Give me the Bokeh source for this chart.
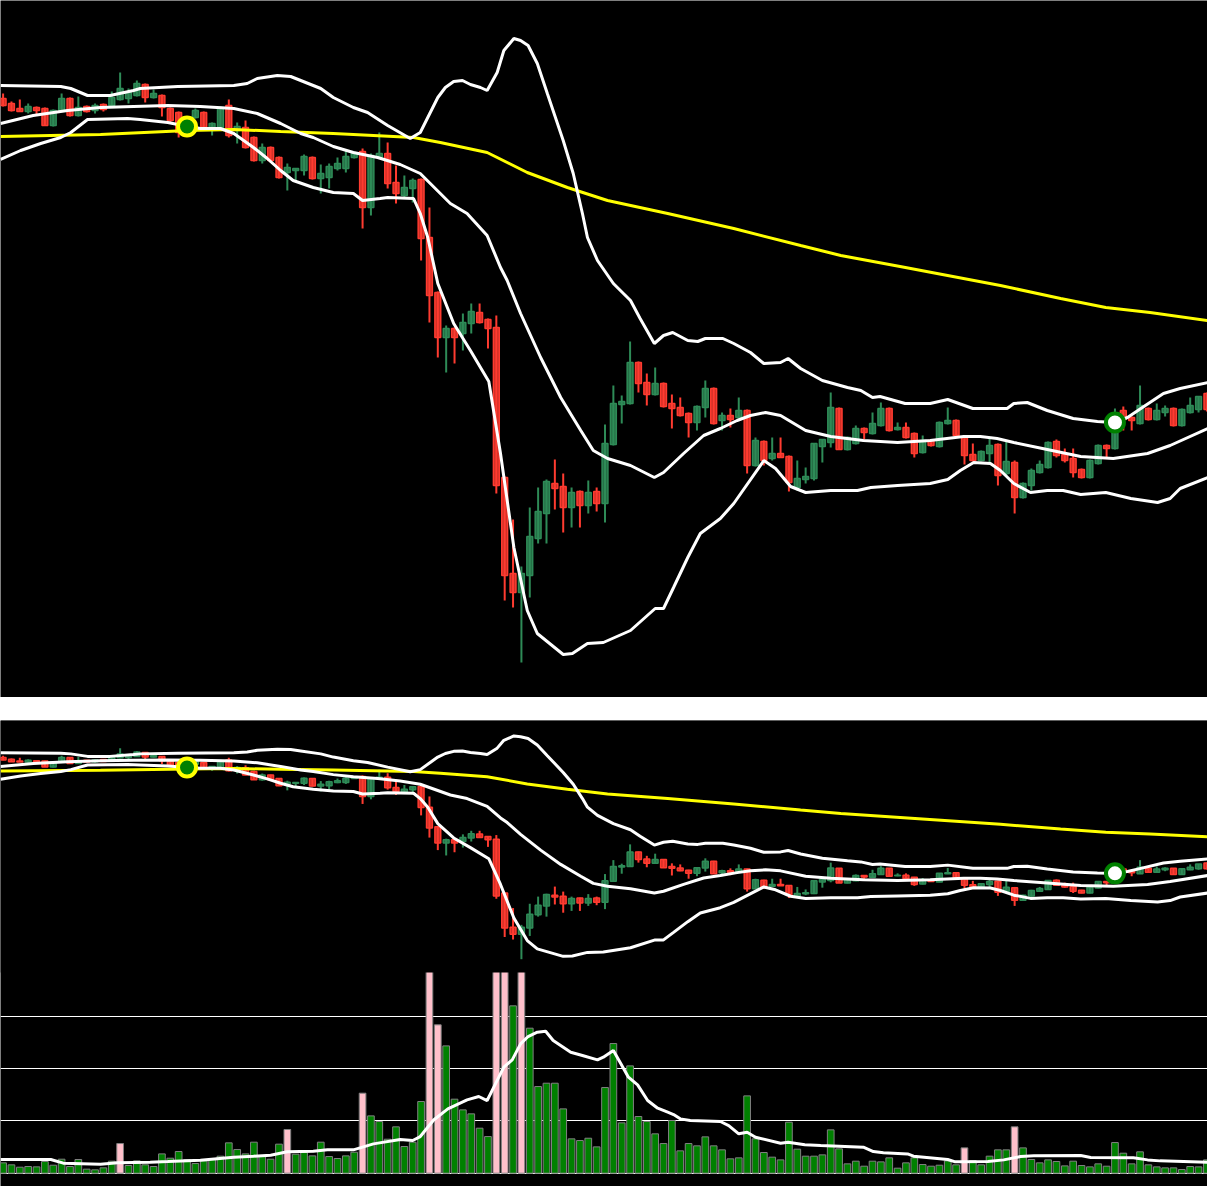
from bokeh.plotting import figure
from bokeh.models import Range1d, FixedTicker, Grid, Spacer, ColumnDataSource
from bokeh.layouts import column
from bokeh.embed import file_html
from bokeh.resources import INLINE

# ---------------- price data (OHLC), one entry per session ----------------
opens = [90.2, 89.7, 89.2, 88.9, 89.3, 89.2, 87.5, 89.0, 90.2, 88.5,
         89.4, 89.0, 89.6, 89.5, 90.1, 90.2, 90.5, 91.6, 90.3, 90.5,
         89.2, 88.8, 88.2, 88.3, 88.8, 87.3, 87.3, 89.5, 87.0, 87.3,
         86.3, 84.0, 85.3, 84.3, 82.8, 83.0, 83.0, 84.3, 82.2, 82.3,
         83.2, 83.2, 84.3, 84.9, 79.3, 84.3, 84.7, 81.8, 80.5, 81.2,
         82.1, 76.3, 70.8, 66.3, 67.2, 66.7, 67.7, 68.8, 68.1, 67.3,
         52.3, 42.7, 40.8, 42.5, 46.2, 48.7, 51.7, 51.4, 49.3, 50.9,
         49.5, 50.9, 49.7, 55.6, 59.6, 59.7, 63.8, 61.8, 60.6, 61.7,
         59.7, 59.3, 58.7, 57.8, 59.3, 61.2, 58.0, 58.5, 58.3, 59.0,
         53.5, 55.9, 54.2, 54.7, 54.4, 51.3, 52.1, 52.2, 55.4, 55.8,
         59.2, 55.1, 55.7, 57.2, 56.7, 57.5, 59.2, 57.1, 57.3, 56.7,
         54.8, 56.0, 55.4, 57.7, 58.0, 56.3, 54.6, 54.0, 54.7, 55.6,
         52.7, 53.8, 50.3, 51.5, 52.8, 53.3, 55.9, 54.6, 54.2, 53.1,
         52.3, 53.7, 55.5, 55.2, 59.0, 58.3, 57.7, 59.2, 58.1, 58.8,
         59.2, 57.5, 58.8, 59.1, 60.7]
highs = [90.7, 89.9, 90.1, 89.7, 89.4, 89.3, 89.1, 90.7, 90.3, 90.4,
         89.5, 89.7, 89.7, 90.9, 92.8, 91.2, 92.0, 91.7, 91.1, 90.6,
         89.3, 88.9, 88.4, 89.2, 88.9, 87.8, 89.4, 90.1, 87.8, 88.0,
         86.4, 85.7, 85.4, 84.4, 83.7, 83.2, 84.6, 84.4, 83.6, 83.7,
         84.3, 85.0, 84.9, 85.2, 84.7, 86.8, 85.8, 83.5, 82.5, 82.2,
         82.2, 79.3, 70.9, 67.5, 67.3, 68.7, 69.7, 69.7, 68.2, 68.5,
         52.4, 48.1, 43.4, 49.3, 51.3, 52.1, 54.1, 52.7, 51.3, 51.0,
         52.0, 51.3, 57.6, 61.5, 60.5, 65.9, 63.9, 62.7, 63.3, 61.8,
         60.6, 60.3, 58.8, 59.5, 62.0, 61.3, 58.8, 59.2, 60.3, 59.1,
         56.3, 56.0, 56.3, 56.3, 54.5, 54.0, 53.3, 55.7, 56.1, 60.8,
         59.3, 56.4, 57.5, 57.3, 58.8, 59.8, 59.3, 57.8, 57.8, 56.8,
         56.5, 56.1, 57.9, 59.3, 58.1, 56.4, 55.7, 55.0, 56.2, 55.7,
         56.0, 54.0, 51.8, 53.2, 54.0, 55.9, 56.1, 55.2, 55.2, 53.2,
         54.1, 55.6, 55.6, 59.2, 59.4, 58.4, 61.5, 59.3, 59.7, 59.5,
         59.3, 59.2, 60.3, 60.4, 60.8]
lows = [89.4, 88.9, 88.9, 88.7, 88.5, 87.5, 87.4, 88.9, 88.4, 88.4,
        88.8, 88.7, 88.9, 89.4, 90.0, 89.7, 90.4, 89.8, 90.2, 88.4,
        87.8, 86.3, 87.0, 88.2, 87.2, 86.5, 87.2, 86.3, 85.7, 85.2,
        83.9, 83.7, 83.8, 82.2, 81.0, 82.0, 82.5, 82.1, 80.7, 81.2,
        83.0, 82.8, 84.2, 77.2, 78.5, 84.2, 81.2, 79.7, 80.3, 79.8,
        74.0, 67.8, 64.3, 62.8, 63.7, 65.0, 66.7, 67.7, 65.2, 50.7,
        40.0, 39.3, 33.8, 40.3, 45.7, 45.7, 49.1, 46.8, 47.3, 47.3,
        48.7, 48.9, 47.8, 55.5, 57.7, 59.6, 60.8, 59.5, 60.5, 59.3,
        57.2, 58.4, 56.3, 57.0, 58.3, 57.6, 57.0, 57.3, 58.2, 52.7,
        53.4, 53.5, 54.0, 54.3, 50.9, 51.0, 51.7, 52.0, 53.8, 55.3,
        55.1, 55.0, 55.6, 56.1, 56.6, 57.4, 56.9, 57.0, 56.2, 54.3,
        54.7, 55.4, 55.3, 57.6, 56.4, 53.6, 53.9, 53.9, 53.8, 51.5,
        52.5, 48.7, 50.2, 51.0, 52.7, 53.2, 54.3, 53.8, 52.3, 52.2,
        52.2, 53.6, 54.3, 55.1, 57.0, 57.0, 57.6, 58.0, 58.0, 58.4,
        57.4, 57.4, 58.7, 58.8, 58.9]
closes = [89.5, 89.0, 88.9, 89.4, 89.0, 87.5, 89.0, 90.2, 88.5, 89.3,
          88.9, 89.5, 89.1, 90.3, 91.2, 90.8, 91.7, 90.3, 90.7, 89.3,
          88.0, 86.8, 87.3, 89.0, 87.3, 87.7, 89.3, 86.5, 87.4, 85.3,
          84.0, 85.3, 84.0, 82.3, 83.3, 83.2, 84.4, 82.2, 82.7, 83.4,
          83.7, 84.4, 84.7, 79.3, 84.5, 84.7, 81.7, 80.7, 81.3, 82.0,
          76.2, 70.5, 66.3, 67.2, 66.3, 67.8, 68.9, 67.8, 67.2, 51.5,
          42.5, 40.8, 42.7, 46.4, 48.9, 51.9, 51.2, 49.3, 50.8, 49.5,
          50.8, 49.7, 55.7, 59.7, 59.9, 63.8, 61.7, 60.6, 61.7, 59.4,
          59.2, 58.5, 57.8, 59.4, 61.2, 57.7, 58.5, 58.1, 59.0, 53.5,
          56.0, 54.0, 54.7, 54.3, 51.8, 52.2, 52.4, 55.7, 56.1, 59.3,
          55.1, 56.3, 57.2, 56.8, 57.7, 59.2, 57.0, 57.3, 56.3, 54.7,
          56.0, 55.5, 57.8, 58.0, 56.5, 54.5, 54.0, 54.9, 55.5, 52.5,
          53.9, 50.3, 51.7, 53.0, 53.6, 55.8, 54.5, 54.0, 52.8, 52.3,
          54.0, 55.5, 55.2, 57.5, 58.1, 58.0, 59.5, 58.1, 59.0, 59.2,
          57.5, 59.1, 59.5, 60.4, 59.1]

# ---------------- volume (millions), one entry per session ----------------
volumes = [0.198, 0.160, 0.115, 0.128, 0.121, 0.224, 0.153, 0.268, 0.128, 0.262,
           0.077, 0.064, 0.102, 0.230, 0.568, 0.147, 0.236, 0.160, 0.128, 0.370,
           0.287, 0.415, 0.262, 0.185, 0.236, 0.275, 0.326, 0.581, 0.453, 0.370,
           0.594, 0.326, 0.268, 0.556, 0.837, 0.364, 0.396, 0.332, 0.594, 0.319,
           0.281, 0.332, 0.402, 1.533, 1.098, 0.990, 0.651, 0.888, 0.511, 0.594,
           1.373, 4.600, 2.842, 2.439, 1.418, 1.213, 1.137, 0.862, 0.702, 4.300,
           4.900, 3.206, 4.100, 2.778, 1.660, 1.724, 1.724, 1.232, 0.658, 0.626,
           0.670, 0.504, 1.641, 2.484, 0.964, 2.056, 1.086, 0.990, 0.754, 0.568,
           1.009, 0.428, 0.568, 0.524, 0.696, 0.524, 0.447, 0.275, 0.294, 1.481,
           0.658, 0.396, 0.307, 0.255, 0.977, 0.460, 0.326, 0.326, 0.351, 0.830,
           0.466, 0.179, 0.230, 0.134, 0.230, 0.217, 0.294, 0.096, 0.198, 0.294,
           0.166, 0.134, 0.153, 0.236, 0.160, 0.485, 0.243, 0.160, 0.326, 0.447,
           0.447, 0.888, 0.485, 0.262, 0.198, 0.255, 0.224, 0.140, 0.230, 0.147,
           0.121, 0.179, 0.134, 0.587, 0.383, 0.179, 0.409, 0.160, 0.121, 0.102,
           0.102, 0.070, 0.128, 0.121, 0.255]
volume_spikes = [14, 34, 43, 51, 52, 59, 60, 62, 115, 121]
volume_ticks = [0, 1, 2, 3]
volume_panel_top = 3.845   # upper limit of the volume pane

# ---------------- indicator lines (session position, value) ----------------
bb_upper_x = [-0.3, 6.9, 8.1, 10.1, 12.8, 15.6, 16.4, 20.9, 27.6, 29.2, 30.4, 32.8,
              34.4, 35.6, 38.0, 39.5, 41.9, 43.6, 46.0, 48.7, 49.9, 52.0, 52.9, 53.9,
              54.95, 55.9, 57.1, 57.9, 59.1, 59.9, 61.1, 61.9, 62.8, 63.9, 65.1, 67.0,
              68.2, 69.3, 69.9, 71.1, 73.0, 75.05, 76.2, 77.9, 79.0, 80.1, 81.9, 83.1,
              84.0, 86.1, 87.4, 89.4, 91.0, 93.0, 93.9, 95.4, 98.0, 101.0, 102.6, 104.0,
              104.9, 107.9, 110.9, 113.0, 116.0, 120.1, 120.9, 122.5, 124.9, 128.0,
              130.9, 132.8, 134.5, 136.1, 138.8, 140.8, 144.1]
bb_upper = [91.5, 91.4, 91.2, 90.5, 90.5, 91.0, 91.2, 91.4, 91.5, 91.7, 92.2, 92.5,
            92.4, 92.0, 91.2, 90.3, 89.3, 88.8, 87.5, 86.2, 86.8, 90.3, 91.3, 91.9,
            92.0, 91.6, 91.3, 91.0, 92.8, 95.0, 96.2, 96.0, 95.5, 93.7, 90.7, 86.0,
            82.7, 78.7, 76.3, 74.0, 71.7, 70.0, 68.2, 65.7, 66.5, 66.8, 66.0, 65.9,
            66.2, 66.2, 65.7, 64.8, 63.7, 63.8, 64.2, 63.2, 62.0, 61.3, 61.0, 60.3,
            60.4, 59.7, 59.7, 60.1, 59.2, 59.2, 59.7, 59.8, 59.0, 58.2,
            57.9, 57.8, 58.3, 59.2, 60.7, 61.2, 61.8]
bb_mid_x = [-0.3, 3.6, 7.7, 11.65, 15.6, 19.7, 23.6, 27.6, 30.4, 33.2, 35.6, 37.1,
            39.5, 41.9, 44.8, 47.5, 49.9, 53.5, 55.5, 57.9, 59.5, 60.3, 61.9, 64.3,
            66.7, 69.1, 70.6, 72.3, 75.05, 77.9, 79.0, 81.4, 83.8, 85.8, 87.8, 89.4,
            91.2, 93.0, 96.0, 99.0, 102.9, 107.0, 110.9, 114.9, 116.9, 118.9, 120.9,
            124.9, 128.9, 132.8, 136.9, 139.6, 144.1]
bb_mid = [87.7, 88.5, 89.0, 89.3, 89.4, 89.5, 89.4, 89.2, 88.7, 87.7, 86.7, 86.3,
          85.4, 84.8, 84.3, 83.6, 82.7, 79.7, 78.7, 76.5, 73.3, 72.0, 68.7, 64.3,
          60.3, 57.0, 55.0, 54.2, 53.5, 52.3, 52.8, 54.7, 56.5, 57.2, 58.0, 58.5,
          58.8, 58.5, 57.0, 56.4, 56.0, 55.8, 56.0, 56.4, 56.4, 56.2, 55.8,
          55.1, 54.4, 54.2, 54.7, 55.5, 57.2]
bb_lower_x = [-0.3, 2.1, 4.5, 6.9, 8.1, 10.1, 14.9, 16.4, 19.7, 20.9, 23.6, 26.0,
              27.6, 29.95, 31.6, 33.2, 34.7, 37.1, 39.5, 41.9, 43.0, 45.1, 46.0, 49.1,
              49.9, 50.8, 52.0, 53.9, 55.9, 58.1, 59.5, 61.1, 62.7, 63.9, 67.0, 68.1,
              69.9, 71.8, 75.05, 78.0, 79.0, 80.2, 81.9, 83.4, 85.8, 87.4, 91.0, 92.4,
              94.2, 96.0, 99.0, 102.2, 103.8, 107.0, 110.9, 113.0, 114.5, 116.1, 118.1,
              119.3, 120.9, 122.9, 124.9, 126.8, 128.9, 131.9, 134.9, 138.1, 139.6,
              140.8, 144.1]
bb_lower = [84.1, 85.0, 85.7, 86.3, 86.8, 88.1, 88.2, 88.1, 87.8, 87.6, 87.2, 87.2,
            86.7, 85.3, 84.2, 83.0, 82.0, 81.3, 80.8, 80.7, 80.0, 80.2, 80.3, 80.2,
            78.7, 76.3, 71.7, 67.7, 65.0, 61.9, 54.7, 45.3, 39.0, 36.7, 34.6, 34.7,
            35.7, 35.8, 37.0, 39.2, 39.2, 41.3, 44.3, 46.7, 48.2, 49.7, 54.0, 53.2,
            51.4, 50.8, 51.0, 51.0, 51.3, 51.5, 51.7, 52.1, 53.0, 53.8, 53.7,
            53.0, 51.7, 50.8, 51.0, 51.0, 50.6, 50.8, 50.2, 49.8, 50.2,
            51.2, 52.3]
ma_long_x = [-0.3, 11.65, 22.1, 27.6, 33.2, 39.5, 49.1, 52.3, 57.9, 62.7, 67.5,
             72.3, 79.5, 87.4, 95.4, 100.2, 107.3, 119.3, 126.5, 131.9, 137.2, 144.1]
ma_long = [86.4, 86.6, 87.0, 87.1, 86.9, 86.7, 86.3, 85.8, 84.8, 82.8, 81.3,
           80.0, 78.7, 77.2, 75.5, 74.5, 73.4, 71.5, 70.2, 69.3, 68.8, 68.0]
vol_ma_x = [-0.3, 5.7, 7.2, 11.65, 13.7, 17.6, 19.7, 23.6, 27.6, 29.95, 32.0, 34.0,
            37.1, 38.8, 41.9, 44.3, 47.5, 49.0, 49.9, 51.5, 53.2, 55.5, 56.9, 57.9,
            58.7, 59.9, 60.9, 61.9, 62.8, 63.9, 64.9, 65.8, 67.9, 69.3, 71.1, 71.8,
            73.0, 73.9, 74.8, 75.9, 77.1, 78.3, 79.5, 80.2, 81.0, 82.2, 85.8, 86.8,
            88.0, 89.0, 90.0, 93.0, 93.9, 95.9, 97.8, 102.9, 104.1, 105.3, 108.2,
            108.9, 113.0, 113.9, 117.8, 119.7, 121.7, 123.3, 128.9, 130.1, 135.2,
            136.9, 138.4, 144.1]
vol_ma = [0.262, 0.262, 0.192, 0.172, 0.198, 0.211, 0.223, 0.249, 0.307, 0.326, 0.345, 0.409,
          0.421, 0.447, 0.447, 0.562, 0.645, 0.626, 0.702, 1.020, 1.232, 1.405, 1.469, 1.392,
          1.648, 2.031, 2.171, 2.478, 2.618, 2.701, 2.720, 2.541, 2.318, 2.254, 2.171, 2.222,
          2.350, 2.095, 1.839, 1.692, 1.392, 1.245, 1.169, 1.124, 1.041, 1.009, 0.990, 0.913,
          0.754, 0.785, 0.690, 0.575, 0.594, 0.543, 0.530, 0.498, 0.415, 0.390, 0.370,
          0.326, 0.262, 0.217, 0.223, 0.255, 0.319, 0.332, 0.338, 0.300, 0.294,
          0.255, 0.236, 0.211]

# ---------------- signals ----------------
buy_idx = [22]
buy_price = [87.4]
sell_idx = [133]
sell_price = [57.8]

UP = "#2E8B57"
DOWN = "#FF3B30"

idx = list(range(len(closes)))
colors = [UP if c >= o else DOWN for o, c in zip(opens, closes)]
src = ColumnDataSource(dict(
    x=idx, o=opens, h=highs, l=lows, c=closes,
    top=[max(o, c) for o, c in zip(opens, closes)],
    bottom=[min(o, c) for o, c in zip(opens, closes)],
    color=colors))

vcolors = ["pink" if i in volume_spikes else "green" for i in idx]
vsrc = ColumnDataSource(dict(x=idx, v=volumes, color=vcolors))

W = 1207
XR = (-0.311, 144.07)


def make_fig(h, yr):
    p = figure(width=W, height=h, x_range=Range1d(*XR), y_range=Range1d(*yr),
               output_backend="svg", toolbar_location=None,
               x_axis_location=None, y_axis_location=None,
               background_fill_color="black", border_fill_color="black",
               outline_line_color=None, min_border=0)
    p.grid.visible = False
    return p


def price_panel(p):
    p.vbar(x="x", width=0.7, top="top", bottom="bottom", source=src,
           fill_color="color", fill_alpha=0.8, line_color="color", line_width=1.5)
    p.segment(x0="x", y0="h", x1="x", y1="l", source=src, line_color="color", line_width=2)
    p.line(ma_long_x, ma_long, line_color="yellow", line_width=3)
    p.line(bb_upper_x, bb_upper, line_color="white", line_width=3)
    p.line(bb_mid_x, bb_mid, line_color="white", line_width=3)
    p.line(bb_lower_x, bb_lower, line_color="white", line_width=3)
    p.scatter(buy_idx, buy_price, marker="circle", size=18, fill_color="green",
              line_color="yellow", line_width=4)
    p.scatter(sell_idx, sell_price, marker="circle", size=18, fill_color="white",
              line_color="green", line_width=4)


# top chart
p1 = make_fig(697, (30.3, 100.0))
price_panel(p1)

# bottom chart: price pane on top, volume pane below (shared canvas)
p2 = make_fig(466, (-29.74, 100.53))
p2.extra_y_ranges = {"vol": Range1d(-0.255, 8.673)}
g = Grid(dimension=1, ticker=FixedTicker(ticks=volume_ticks), y_range_name="vol",
         grid_line_color="white", grid_line_width=1)
p2.add_layout(g)
p2.vbar(x="x", width=0.8, top="v", bottom=0, source=vsrc, y_range_name="vol",
        fill_color="color", line_color="gray", line_width=1)
p2.line(vol_ma_x, vol_ma, line_color="white", line_width=3, y_range_name="vol")
# the volume pane ends where the price pane starts
p2.quad(left=[XR[0]], right=[XR[1]], bottom=[volume_panel_top], top=[8.673],
        y_range_name="vol", fill_color="black", line_color=None)
price_panel(p2)

layout = column(p1, Spacer(width=W, height=23), p2)

open("out.html", "w").write(file_html(layout, INLINE))
